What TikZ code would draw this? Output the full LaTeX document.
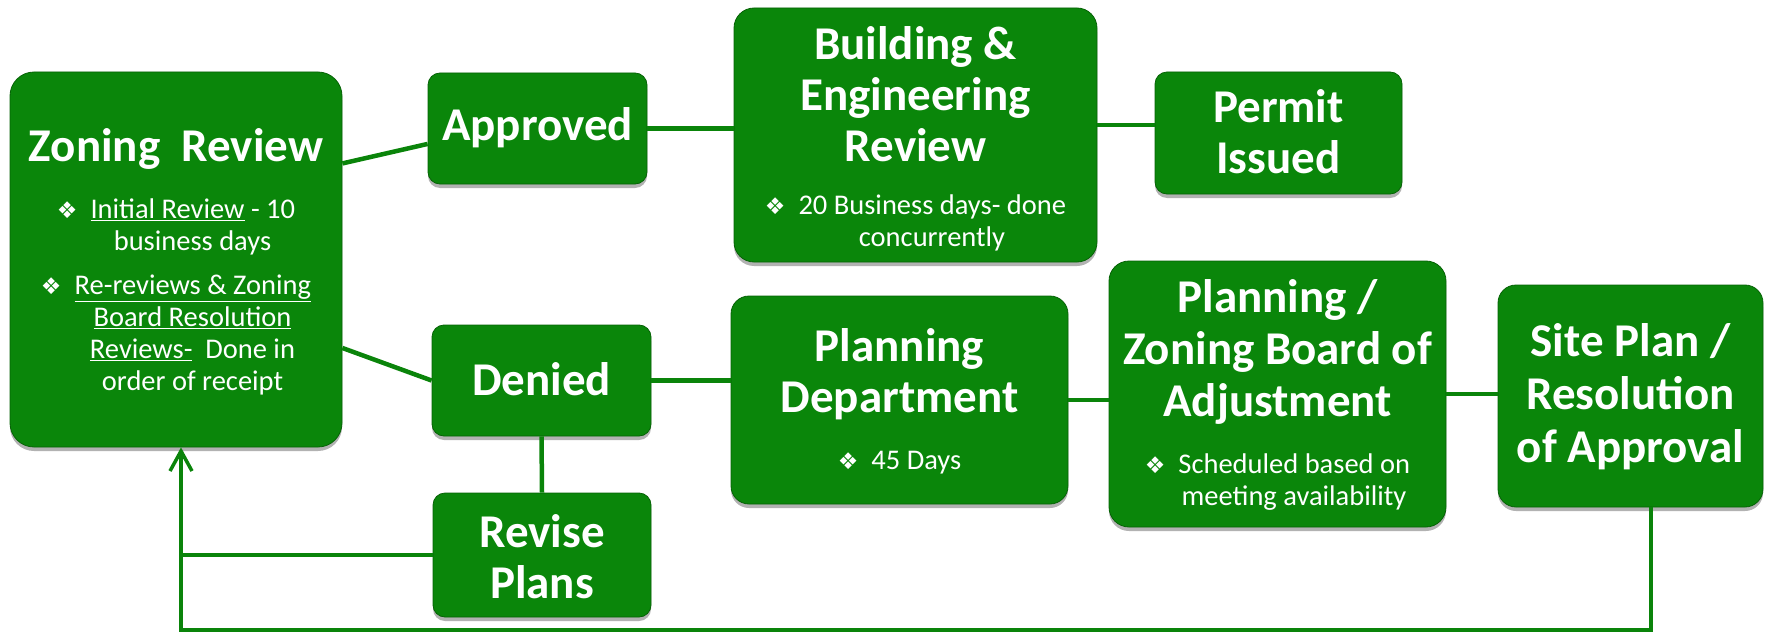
\documentclass[tikz,border=0pt]{standalone}
\usepackage{fontspec}
\setmainfont{Carlito}
\newfontfamily\symfont{DejaVu Sans}
\usetikzlibrary{shadows,arrows.meta}

\definecolor{boxmain}{RGB}{10,134,10}
\definecolor{boxlight}{RGB}{72,192,72}
\definecolor{boxdark}{RGB}{8,110,8}
\definecolor{boxedge}{RGB}{6,98,6}
\definecolor{linkgreen}{RGB}{10,132,10}

% flat green body with a light band on top and a darker foot
\pgfdeclareverticalshading{boxshade}{100bp}{color(0bp)=(boxdark); color(5bp)=(boxmain); color(94bp)=(boxmain); color(98bp)=(boxlight); color(100bp)=(boxlight)}

\newcommand\bul{{\symfont\fontsize{23}{23}\selectfont ❖}\hspace{13pt}}
\newcommand\ind{\hspace*{33pt}}

\tikzset{
  box/.style={draw=boxedge, line width=0.8pt, shade, shading=boxshade,
    rounded corners=12pt, inner sep=0pt,
    drop shadow={shadow xshift=0pt, shadow yshift=-4pt, opacity=0.3, fill=black}},
  ttl/.style={text=white, font=\bfseries\fontsize{47}{51}\selectfont, align=center, inner sep=0pt},
  txt/.style={text=white, font=\fontsize{28.5}{32}\selectfont, align=center, inner sep=0pt},
  link/.style={draw=linkgreen, line width=4.5pt},
  loopline/.style={draw=linkgreen, line width=3.5pt},
}

\begin{document}
\begin{tikzpicture}[x=1pt, y=-1pt]
\useasboundingbox (0,0) rectangle (1769,634);

% boxes
\node[box, rounded corners=24pt, minimum width=332pt, minimum height=375pt] (zr) at (176,259.5) {};
\node[box, minimum width=219pt, minimum height=111pt] (ap) at (537.5,128.5) {};
\node[box, minimum width=219pt, minimum height=111pt] (dn) at (541.5,380.5) {};
\node[box, minimum width=218pt, minimum height=124pt] (rv) at (542,555) {};
\node[box, rounded corners=20pt, minimum width=363pt, minimum height=254pt] (be) at (915.5,135) {};
\node[box, minimum width=247pt, minimum height=122pt] (pm) at (1278.5,133) {};
\node[box, rounded corners=18pt, minimum width=337pt, minimum height=208pt] (pd) at (899.5,400) {};
\node[box, rounded corners=20pt, minimum width=337pt, minimum height=266pt] (pz) at (1277.5,394) {};
\node[box, rounded corners=18pt, minimum width=265pt, minimum height=222pt] (sp) at (1630.5,396) {};

% texts
\node[ttl] (zr-t) at (176,149) {Zoning\ \ Review};
\node[txt] (zr-b) at (176,297) {\bul\underline{Initial Review} - 10\\ \ind business days\\[12pt]
  \bul\underline{Re-reviews \& Zoning}\\ \ind\underline{Board Resolution}\\ \ind\underline{Reviews-}\ \ Done in\\ \ind order of receipt};
\node[ttl] (ap-t) at (537.5,128) {Approved};
\node[ttl] (dn-t) at (541.5,379) {Denied};
\node[ttl] (rv-t) at (542,557) {Revise\\Plans};
\node[ttl] (be-t) at (915.5,94) {Building \&\\Engineering\\Review};
\node[txt] (be-b) at (915.5,223) {\bul 20 Business days- done\\ \ind concurrently};
\node[ttl] (pm-t) at (1278.5,132) {Permit\\Issued};
\node[ttl] (pd-t) at (899.5,374) {Planning\\Department};
\node[txt] (pd-b) at (899.5,463) {\bul 45 Days};
\node[ttl, font=\bfseries\fontsize{47}{52}\selectfont] (pz-t) at (1277.5,352) {Planning /\\Zoning Board of\\Adjustment};
\node[txt] (pz-b) at (1277.5,482) {\bul Scheduled based on\\ \ind meeting availability};
\node[ttl, font=\bfseries\fontsize{47}{53}\selectfont] (sp-t) at (1630.5,397) {Site Plan /\\Resolution\\of Approval};

% connectors
\draw[link] (zr.30) -- (ap.188);
\draw[link] (zr.-28.5) -- (dn.west);
\draw[link] (ap.east) -- (ap.east -| be.west);
\draw[link] ([yshift=8pt]pm.west -| be.east) -- ([yshift=8pt]pm.west);
\draw[link] (dn.east) -- (dn.east -| pd.west);
\draw[link] (pd.east) -- (pd.east -| pz.west);
\draw[link] (pz.east) -- (pz.east -| sp.west);
\draw[link] (dn.south) -- (rv.north);

% return path to zoning review
\coordinate (lpR) at (1651,630);
\coordinate (lpL) at (181,630);
\draw[loopline] (rv.west) -- (rv.west -| lpL);
\draw[loopline, -{Straight Barb[length=20pt,width=22pt]}] (lpR |- sp.south) -- (lpR) -- (lpL) -- (lpL |- zr.south);
\end{tikzpicture}
\end{document}
